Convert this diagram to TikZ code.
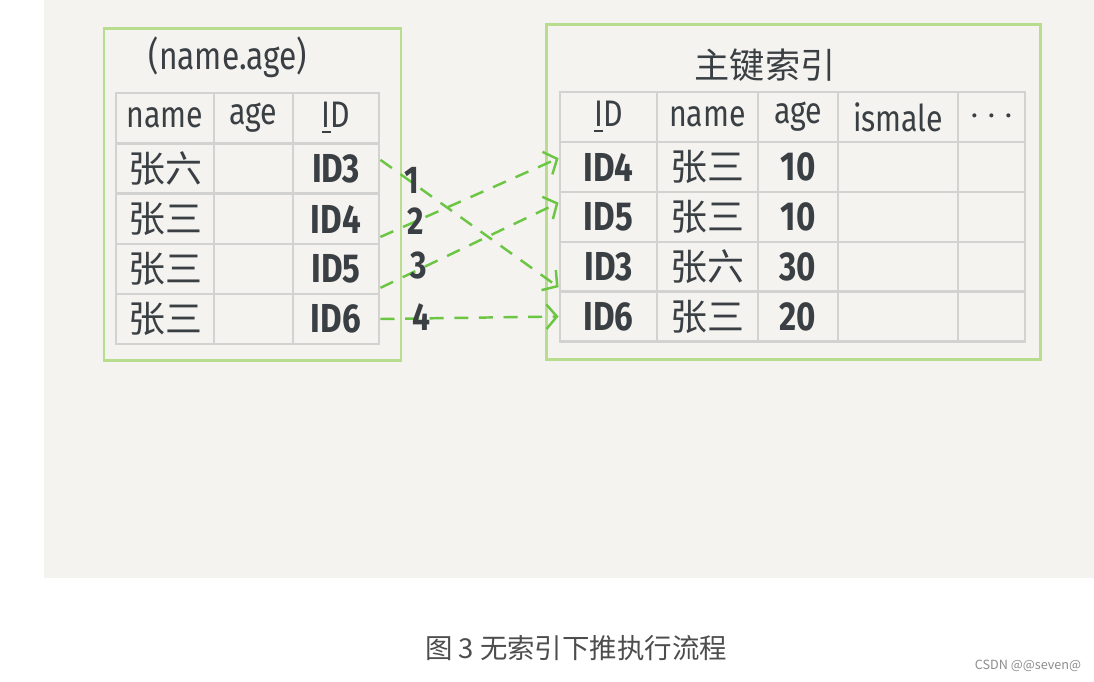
\documentclass[tikz,border=0pt]{standalone}
\usepackage{fontspec}
\setmainfont[FakeStretch=0.82]{Fira Sans}
\newfontfamily\cjk{Noto Sans CJK SC}
\usetikzlibrary{arrows.meta}
\definecolor{paper}{HTML}{F4F3EF}
\definecolor{framegreen}{HTML}{B8DD8F}
\definecolor{gridgray}{HTML}{D2D2D0}
\definecolor{ink}{HTML}{3A3F44}
\definecolor{linkgreen}{HTML}{6CC644}
\definecolor{capgray}{HTML}{4D4D4D}
\begin{document}
\begin{tikzpicture}[x=0.01cm,y=-0.01cm,
  cell/.style={draw=gridgray,line width=0.8pt,minimum height=0.5cm,inner sep=0pt,text=ink,font=\fontsize{10.5}{12}\selectfont},
  idcell/.style={cell,font=\bfseries\fontsize{11.5}{13}\selectfont},
  panel/.style={draw=framegreen,line width=0.8pt,inner sep=0pt},
  link/.style={draw=linkgreen,line width=0.7pt,dash pattern=on 4pt off 3pt,-{Straight Barb[length=3pt,width=7pt]}},
  num/.style={text=ink,font=\bfseries\fontsize{11}{13}\selectfont,inner sep=0pt}]
  \useasboundingbox (0,0) rectangle (1094,682);
  \fill[paper] (44,0) rectangle (1094,578);
  % secondary index (name, age)
  \node[panel,minimum width=2.97cm,minimum height=3.31cm] (lbox) at (252.5,194.5) {};
  \node[text=ink,font=\fontsize{11}{13}\selectfont] (ltitle) at (228,57) {(name.age)};
  \node[cell,minimum width=0.98cm] (lh1) at (165,118) {name};
  \node[cell,minimum width=0.79cm] (lh2) at (253.5,118) {age};
  \node[cell,minimum width=0.86cm] (lh3) at (336,118) {\underline{I}D};
  \foreach \r/\y/\na/\id in {1/168.5/张六/ID3,2/219/张三/ID4,3/269/张三/ID5,4/319/张三/ID6}{
    \node[cell,minimum width=0.98cm] (ln\r) at (165,\y) {\cjk\na};
    \node[cell,minimum width=0.79cm] (la\r) at (253.5,\y) {};
    \node[idcell,minimum width=0.86cm] (li\r) at (336,\y) {\id};
  }
  % primary key index
  \node[panel,minimum width=4.93cm,minimum height=3.34cm] (rbox) at (793.5,192) {};
  \node[text=ink,font=\cjk\fontsize{10}{12}\selectfont] (rtitle) at (765,65) {主键索引};
  \node[cell,minimum width=0.97cm] (rh1) at (608.5,117) {\underline{I}D};
  \node[cell,minimum width=1.01cm] (rh2) at (707.5,117) {name};
  \node[cell,minimum width=0.80cm] (rh3) at (798,117) {age};
  \node[cell,minimum width=1.20cm] (rh4) at (898,117) {ismale};
  \node[cell,minimum width=0.67cm] (rh5) at (991.5,117) {$\cdots$};
  \foreach \r/\y/\id/\na/\ag in {1/167/ID4/张三/10,2/217/ID5/张三/10,3/267/ID3/张六/30,4/316.5/ID6/张三/20}{
    \node[idcell,minimum width=0.97cm] (ri\r) at (608.5,\y) {\id};
    \node[cell,minimum width=1.01cm] (rn\r) at (707.5,\y) {\cjk\na};
    \node[idcell,minimum width=0.80cm] (ra\r) at (798,\y) {\ag};
    \node[cell,minimum width=1.20cm] (rm\r) at (898,\y) {};
    \node[cell,minimum width=0.67cm] (rx\r) at (991.5,\y) {};
  }
  % lookups back to the table
  \draw[link] (li1.11) -- (ri3.202);
  \draw[link] (li2.338) -- (ri1.170);
  \draw[link] (li3.337) -- (ri2.164);
  \draw[link] (li4.east) -- (ri4.west);
  \node[num] (k1) at (412,180) {1};
  \node[num] (k2) at (416,221) {2};
  \node[num] (k3) at (419,265) {3};
  \node[num] (k4) at (421,317) {4};
  % caption
  \node[text=capgray,font=\cjk\fontsize{7.8}{9}\selectfont] (cap) at (576,648) {图 3 无索引下推执行流程};
  \node[text=black!45,font=\cjk\fontsize{3.6}{4.5}\selectfont] (wm) at (1028,666) {CSDN @@seven@};
\end{tikzpicture}
\end{document}
